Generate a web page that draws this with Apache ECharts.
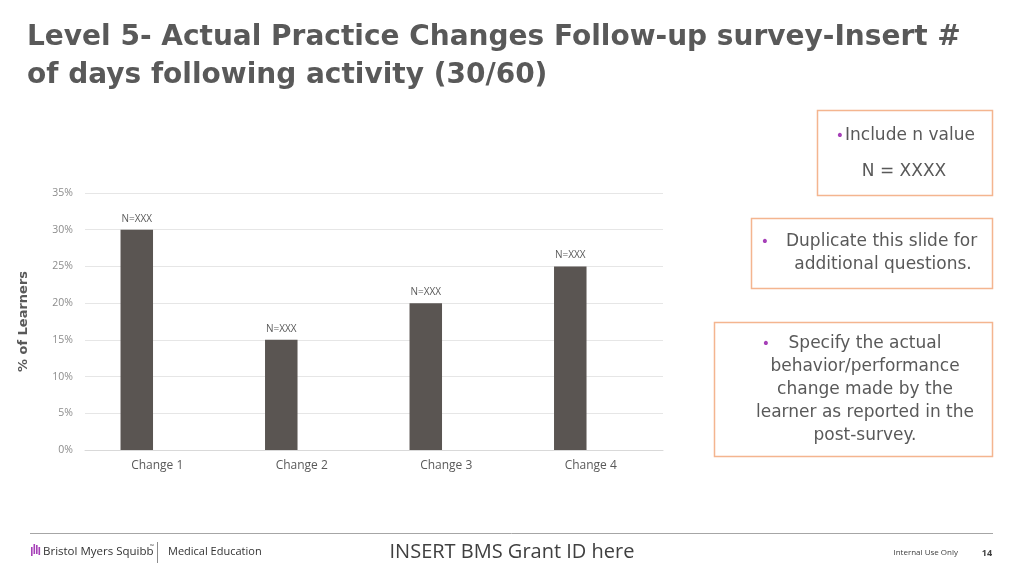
<!DOCTYPE html>
<html>
<head>
<meta charset="utf-8">
<script src="https://cdn.jsdelivr.net/npm/echarts@6/dist/echarts.min.js"></script>
<style>
html,body{margin:0;padding:0;background:#fff;}
#chart{width:1024px;height:576px;}
</style>
</head>
<body>
<div id="chart"></div>
<script>
const categories = ['Change 1', 'Change 2', 'Change 3', 'Change 4'];
const learnerPct = [30, 15, 20, 25];
const nLabels = ['N=XXX', 'N=XXX', 'N=XXX', 'N=XXX'];
const emptySeries = [null, null, null, null];
const yMin = 0, yMax = 35, yStep = 5;

const titleLines = ['Level 5- Actual Practice Changes Follow-up survey-Insert #', 'of days following activity (30/60)'];
const box1Lines = ['Include n value', 'N = XXXX'];
const box2Lines = ['Duplicate this slide for', 'additional questions.'];
const box3Lines = ['Specify the actual', 'behavior/performance', 'change made by the', 'learner as reported in the', 'post-survey.'];

const FONT = '"Open Sans", "Noto Sans", sans-serif';
const TFONT = '"DejaVu Sans", sans-serif';
const GREY = '#595959';
const PURPLE = '#a640b8';
const BORDER = '#f4b58f';
const BOXSIZE = 17;

const chart = echarts.init(document.getElementById('chart'), null, {renderer: 'canvas'});

function boxText(x, y, text, align) {
  return {type: 'text', x: x, y: y, style: {text: text, font: '400 ' + BOXSIZE + 'px ' + TFONT, fill: GREY, textAlign: align || 'center', textVerticalAlign: 'middle'}};
}
function bullet(x, y) {
  return {type: 'text', x: x, y: y, style: {text: '•', font: '400 14px ' + TFONT, fill: PURPLE, textAlign: 'center', textVerticalAlign: 'middle'}};
}

const graphics = [
  // title
  {type: 'text', x: 27, y: 38, style: {text: titleLines[0], font: '700 28px ' + TFONT, fill: GREY, textVerticalAlign: 'middle'}},
  {type: 'text', x: 27, y: 76, style: {text: titleLines[1], font: '700 28px ' + TFONT, fill: GREY, textVerticalAlign: 'middle'}},
  // box 1
  {type: 'rect', shape: {x: 817.5, y: 110.5, width: 175, height: 85}, style: {fill: '#fff', stroke: BORDER, lineWidth: 1.5}},
  bullet(840, 136),
  boxText(845, 136, box1Lines[0], 'left'),
  boxText(904, 172, box1Lines[1]),
  // box 2
  {type: 'rect', shape: {x: 751.5, y: 218.5, width: 241, height: 70}, style: {fill: '#fff', stroke: BORDER, lineWidth: 1.5}},
  bullet(765, 242),
  boxText(786, 242, box2Lines[0], 'left'),
  boxText(883, 265, box2Lines[1]),
  // box 3
  {type: 'rect', shape: {x: 714.5, y: 322.5, width: 278, height: 134}, style: {fill: '#fff', stroke: BORDER, lineWidth: 1.5}},
  bullet(766, 344),
  boxText(865, 344, box3Lines[0]),
  boxText(865, 367, box3Lines[1]),
  boxText(865, 390, box3Lines[2]),
  boxText(865, 413, box3Lines[3]),
  boxText(865, 436, box3Lines[4]),
  // footer
  {type: 'line', shape: {x1: 30, y1: 533.5, x2: 993, y2: 533.5}, style: {stroke: '#a6a6a6', lineWidth: 1}},
  {type: 'rect', shape: {x: 31, y: 547, width: 1.6, height: 9}, style: {fill: PURPLE}},
  {type: 'rect', shape: {x: 33.5, y: 544, width: 1.6, height: 10}, style: {fill: PURPLE}},
  {type: 'rect', shape: {x: 36, y: 545, width: 1.6, height: 9}, style: {fill: PURPLE}},
  {type: 'rect', shape: {x: 38.5, y: 547, width: 1.6, height: 8}, style: {fill: PURPLE}},
  {type: 'text', x: 43, y: 552, style: {text: 'Bristol Myers Squibb', font: '400 11.5px ' + FONT, fill: '#333', textVerticalAlign: 'middle'}},
  {type: 'text', x: 150, y: 547, style: {text: '™', font: '400 5px ' + FONT, fill: '#333', textVerticalAlign: 'middle'}},
  {type: 'line', shape: {x1: 157.5, y1: 542, x2: 157.5, y2: 563}, style: {stroke: '#8c8c8c', lineWidth: 1}},
  {type: 'text', x: 168, y: 552, style: {text: 'Medical Education', font: '400 11px ' + FONT, fill: '#333', textVerticalAlign: 'middle'}},
  {type: 'text', x: 512, y: 552, style: {text: 'INSERT BMS Grant ID here', font: '400 20px ' + FONT, fill: '#404040', textAlign: 'center', textVerticalAlign: 'middle'}},
  {type: 'text', x: 958, y: 553, style: {text: 'Internal Use Only', font: '400 8px ' + FONT, fill: '#404040', textAlign: 'right', textVerticalAlign: 'middle'}},
  {type: 'text', x: 987, y: 553, style: {text: '14', font: '700 9px ' + FONT, fill: '#404040', textAlign: 'center', textVerticalAlign: 'middle'}}
];

chart.setOption({
  animation: false,
  backgroundColor: '#ffffff',
  textStyle: {fontFamily: FONT},
  grid: {left: 85, right: 361, top: 193, bottom: 126, containLabel: false},
  xAxis: {
    type: 'category',
    data: categories,
    axisLine: {lineStyle: {color: '#d9d9d9'}},
    axisTick: {show: false},
    axisLabel: {color: GREY, fontSize: 12, margin: 10, fontFamily: FONT}
  },
  yAxis: {
    type: 'value',
    min: yMin, max: yMax, interval: yStep,
    name: '% of Learners',
    nameLocation: 'middle',
    nameGap: 55,
    nameTextStyle: {color: GREY, fontSize: 13, fontWeight: 'bold', fontFamily: TFONT},
    axisLine: {show: false},
    axisTick: {show: false},
    axisLabel: {color: '#8c8c8c', fontSize: 10.5, margin: 12, formatter: '{value}%', fontFamily: FONT},
    splitLine: {lineStyle: {color: '#e6e6e6'}}
  },
  series: [
    {
      name: 'Series 1',
      type: 'bar',
      data: learnerPct,
      barWidth: 32.5,
      barGap: '26%',
      itemStyle: {color: '#5a5552'},
      label: {
        show: true, position: 'top', distance: 6,
        color: GREY, fontSize: 10, fontFamily: FONT,
        formatter: p => nLabels[p.dataIndex]
      }
    },
    {
      name: 'Series 2',
      type: 'bar',
      data: emptySeries,
      barWidth: 32.5,
      itemStyle: {color: '#a6a6a6'}
    }
  ],
  graphic: graphics
});
</script>
</body>
</html>
